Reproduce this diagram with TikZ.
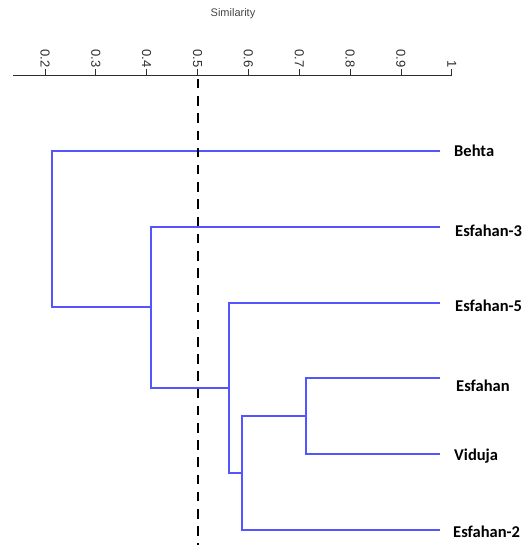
\documentclass[tikz,border=0pt]{standalone}
\usepackage{fontspec}
\newfontfamily\leaffont{Carlito}
\newfontfamily\axisfont{Liberation Sans}
\definecolor{dendroblue}{RGB}{85,85,255}
\definecolor{axisgray}{RGB}{45,45,45}
\definecolor{titlegray}{RGB}{70,70,70}
\tikzset{
  branch/.style={draw=dendroblue, line width=1.4pt},
  leaflabel/.style={anchor=west, inner sep=0pt, text height=10.6pt, text depth=0pt,
    font=\leaffont\bfseries\fontsize{16.5}{16.5}\selectfont},
  ticklabel/.style={rotate=-90, anchor=east, inner sep=0pt, text=axisgray,
    font=\axisfont\fontsize{13}{13}\selectfont},
  axisline/.style={draw=axisgray, line width=0.9pt},
  cutline/.style={draw=black, line width=2pt, dash pattern=on 9.5pt off 7.7pt}
}
\begin{document}
\begin{tikzpicture}[x=1pt,y=-1pt]
\useasboundingbox (0,0) rectangle (522,545);

% title
\node[font=\axisfont\fontsize{11}{11}\selectfont, text=titlegray, inner sep=0pt] (title) at (233,14) {Similarity};

% axis
\coordinate (axL) at (13,75);
\coordinate (axR) at (452,75);
\draw[axisline] (axL) -- (axR);
\foreach \v/\t [count=\i from 0] in {0.2/0.2,0.3/0.3,0.4/0.4,0.5/0.5,0.6/0.6,0.7/0.7,0.8/0.8,0.9/0.9,1/1} {
  \coordinate (tb\i) at ({45+\i*50.85},75);
  \coordinate (tt\i) at ({45+\i*50.85},69);
  \draw[axisline] (tb\i) -- (tt\i);
  \node[ticklabel] (tl\i) at ({45+\i*50.85},67.5) {\t};
}

% leaf labels
\node[leaflabel] (Behta) at (454,151) {Behta};
\node[leaflabel] (Esf3) at (455,231) {Esfahan-3};
\node[leaflabel] (Esf5) at (455,306) {Esfahan-5};
\node[leaflabel] (Esf) at (456,386) {Esfahan};
\node[leaflabel] (Vid) at (454,455) {Viduja};
\node[leaflabel] (Esf2) at (453,532) {Esfahan-2};

% leaf ends
\coordinate (lBehta) at (440,151);
\coordinate (lEsf3) at (440,227);
\coordinate (lEsf5) at (440,303);
\coordinate (lEsf) at (440,378);
\coordinate (lVid) at (440,454);
\coordinate (lEsf2) at (440,530);

% internal merges
\coordinate (n1) at (306,416);
\coordinate (n2) at (242,473);
\coordinate (n3) at (229,388);
\coordinate (n4) at (151,307);
\coordinate (n5) at (52,229);

\draw[branch] (n1) |- (lEsf);
\draw[branch] (n1) |- (lVid);
\draw[branch] (n2) |- (n1);
\draw[branch] (n2) |- (lEsf2);
\draw[branch] (n3) |- (lEsf5);
\draw[branch] (n3) |- (n2);
\draw[branch] (n4) |- (lEsf3);
\draw[branch] (n4) |- (n3);
\draw[branch] (n5) |- (lBehta);
\draw[branch] (n5) |- (n4);

% cut line
\coordinate (cutTop) at (198,79);
\coordinate (cutBot) at (198,545);
\draw[cutline] (cutTop) -- (cutBot);
\end{tikzpicture}
\end{document}
